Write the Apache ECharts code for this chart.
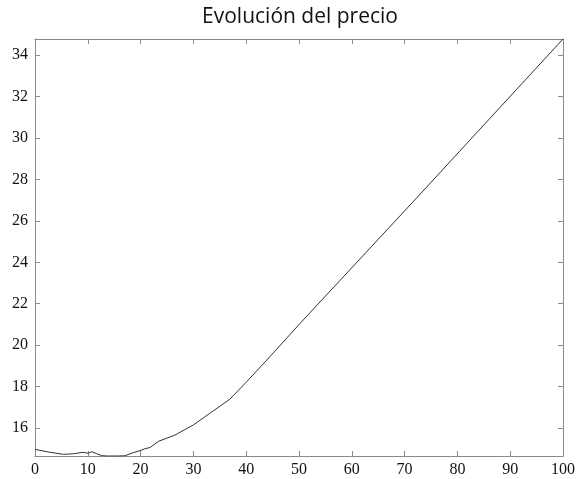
<!DOCTYPE html>
<html>
<head>
<meta charset="utf-8">
<script src="https://cdn.jsdelivr.net/npm/echarts@6/dist/echarts.min.js"></script>
<style>
html,body{margin:0;padding:0;background:#fff;}
#chart{width:578px;height:479px;}
</style>
</head>
<body>
<div id="chart"></div>
<script>
// Data
var xValues = [0, 2.8, 5.4, 7.3, 9.1, 10.1, 10.7, 11.7, 12.6, 13.6, 15.5, 17, 18.6, 19.9, 20.8, 21.8, 23.4, 26.5, 30, 33.1, 36.9, 40.1, 43.9, 50.2, 71.6, 100];
var priceValues = [14.97, 14.83, 14.73, 14.76, 14.83, 14.78, 14.86, 14.76, 14.67, 14.65, 14.65, 14.66, 14.81, 14.91, 15.0, 15.06, 15.36, 15.66, 16.15, 16.71, 17.39, 18.24, 19.28, 21.05, 26.92, 34.78];
var xTicks = [0, 10, 20, 30, 40, 50, 60, 70, 80, 90, 100];
var yTicks = [16, 18, 20, 22, 24, 26, 28, 30, 32, 34];
var titleText = 'Evolución del precio';

var X_MIN = 0, X_MAX = 100, Y_MIN = 14.65, Y_MAX = 34.78;

var seriesData = xValues.map(function (x, i) { return [x, priceValues[i]]; });

var axisColor = '#8a8a8a';
var labelFont = { fontFamily: 'Liberation Serif', fontSize: 16, color: '#111' };

function xAx(pos, showLabel) {
  return {
    type: 'value', position: pos, min: X_MIN, max: X_MAX,
    axisLine: { show: true, onZero: false, lineStyle: { color: axisColor, width: 1 } },
    axisTick: { show: true, inside: true, length: 5, customValues: xTicks, lineStyle: { color: axisColor } },
    axisLabel: Object.assign({ show: showLabel, margin: 6, customValues: xTicks }, labelFont),
    splitLine: { show: false }
  };
}
function yAx(pos, showLabel) {
  return {
    type: 'value', position: pos, min: Y_MIN, max: Y_MAX,
    axisLine: { show: true, onZero: false, lineStyle: { color: axisColor, width: 1 } },
    axisTick: { show: true, inside: true, length: 5, customValues: yTicks, lineStyle: { color: axisColor } },
    axisLabel: Object.assign({ show: showLabel, margin: 7, customValues: yTicks }, labelFont),
    splitLine: { show: false }
  };
}

var chart = echarts.init(document.getElementById('chart'), null, { renderer: 'canvas' });
chart.setOption({
  animation: false,
  backgroundColor: '#fff',
  title: {
    text: titleText, left: 295, top: 2, textAlign: 'center',
    textStyle: { fontFamily: 'Open Sans', fontWeight: 'normal', fontSize: 21, color: '#111' }
  },
  grid: { left: 35, right: 15, top: 39, bottom: 23, containLabel: false },
  xAxis: [xAx('bottom', true), xAx('top', false)],
  yAxis: [yAx('left', true), yAx('right', false)],
  series: [{
    type: 'line', xAxisIndex: 0, yAxisIndex: 0,
    data: seriesData, showSymbol: false, symbol: 'none',
    lineStyle: { color: '#333', width: 1 }
  }]
});
</script>
</body>
</html>
